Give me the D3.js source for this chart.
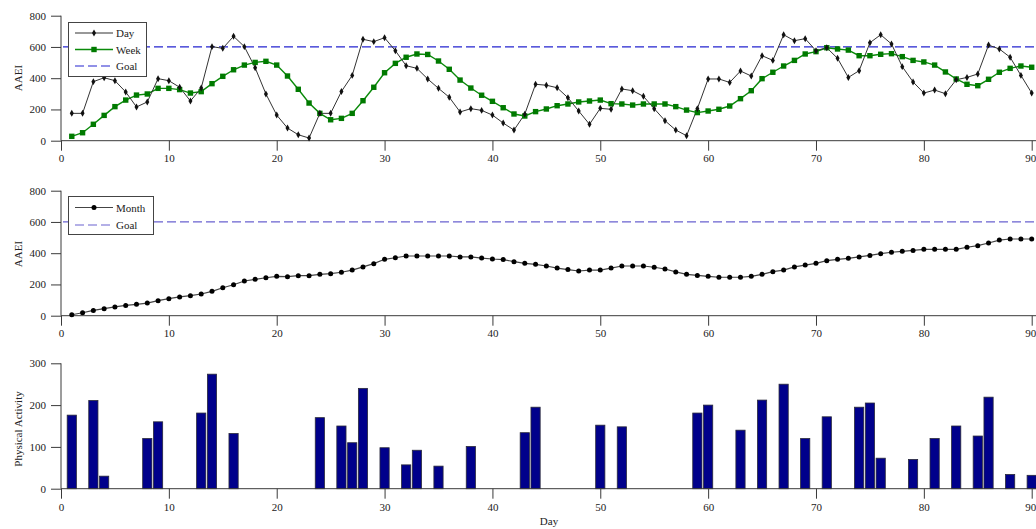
<!DOCTYPE html>
<html>
<head>
<meta charset="utf-8">
<script src="https://cdn.jsdelivr.net/npm/d3@7"></script>
<style>
  html, body { margin: 0; padding: 0; background: #fff; }
  svg { display: block; }
  text { font-family: "Liberation Serif", "Times New Roman", serif; font-size: 11px; fill: #222; }
</style>
</head>
<body>
<svg id="chart" width="1036" height="529"></svg>
<script>
// ---------- data ----------
const days = d3.range(1, 91);
const dayValues = [175,175,378,403,384,312,216,248,397,384,342,254,337,602,591,668,602,467,299,164,
  81,38,17,175,175,315,418,649,634,659,576,480,463,395,335,278,184,205,194,164,
  113,68,170,361,355,339,275,190,105,207,201,331,320,284,205,128,68,32,205,395,
  395,373,446,414,544,514,678,640,653,576,595,527,405,448,627,678,619,474,376,305,
  324,301,390,405,427,612,587,534,418,305];
const weekValues = [28,51,105,162,218,260,292,299,335,335,327,305,314,365,412,454,484,501,508,484,
  414,329,241,175,134,143,175,256,342,435,495,534,555,552,510,457,388,337,291,252,
  211,171,158,186,203,224,235,248,254,260,237,235,228,235,235,235,218,196,180,190,
  201,222,269,320,397,438,478,514,555,570,595,587,580,544,544,553,557,538,514,504,
  484,440,395,361,352,393,438,463,478,470];
const monthValues = [6,19,34,45,56,66,73,81,96,109,120,128,139,156,179,198,222,233,243,252,
  250,256,256,265,269,278,292,312,333,361,371,382,382,382,382,382,376,376,369,363,
  359,346,335,329,318,305,295,286,292,292,305,318,318,318,310,299,280,265,258,252,
  246,246,246,252,265,282,292,312,324,335,352,361,367,376,386,397,406,412,418,425,
  425,425,425,438,448,465,484,491,491,491];
const goalValue = 600;
const activityDays = [1,3,4,8,9,13,14,16,24,26,27,28,30,32,33,35,38,43,44,50,52,59,60,63,65,67,69,71,74,75,76,79,81,83,85,86,88,90];
const activityValues = [176,211,30,120,160,181,274,132,170,150,110,240,98,57,92,54,101,134,195,152,148,181,200,140,212,250,120,172,195,205,73,70,120,150,126,219,34,32];
const xTicks = [0,10,20,30,40,50,60,70,80,90];
const aaeiTicks = [0,200,400,600,800];
const activityTicks = [0,100,200,300];

// ---------- layout ----------
const svg = d3.select("#chart");
const W = 1036;
const x = d3.scaleLinear().domain([0, 90]).range([61, 1031.7]);
const y1 = d3.scaleLinear().domain([0, 800]).range([140.7, 15.7]);
const y2 = d3.scaleLinear().domain([0, 800]).range([315.7, 190.7]);
const y3 = d3.scaleLinear().domain([0, 300]).range([488.7, 363.3]);
const axisColor = "#3a3a3a";

function drawAxes(y, yTicks, padX) {
  const g = svg.append("g");
  const ya = d3.axisLeft(y).tickValues(yTicks).tickSize(10).tickPadding(5).tickSizeOuter(0);
  const gy = g.append("g").attr("transform", `translate(${x(0)},0)`).call(ya);
  gy.select(".domain").remove();
  gy.selectAll(".tick line").attr("stroke", axisColor);
  gy.selectAll(".tick text").attr("font-family", null).attr("font-size", null).attr("fill", "#222");
  g.append("line").attr("x1", x(0)).attr("x2", x(0)).attr("y1", y.range()[1]).attr("y2", y.range()[0])
    .attr("stroke", axisColor);
  const xa = d3.axisBottom(x).tickValues(xTicks).tickSize(10).tickPadding(padX).tickSizeOuter(0);
  const gx = g.append("g").attr("transform", `translate(0,${y.range()[0]})`).call(xa);
  gx.select(".domain").remove();
  gx.selectAll(".tick line").attr("stroke", axisColor);
  gx.selectAll(".tick text").attr("font-family", null).attr("font-size", null).attr("fill", "#222")
    .attr("text-anchor", d => d === 90 ? "end" : "middle")
    .attr("x", d => d === 90 ? 4 : 0);
  g.append("line").attr("x1", x(0)).attr("x2", W).attr("y1", y.range()[0]).attr("y2", y.range()[0])
    .attr("stroke", axisColor);
}

function yTitle(txt, cy) {
  svg.append("text").attr("transform", `translate(22,${cy}) rotate(-90)`)
    .attr("text-anchor", "middle").text(txt);
}

function goalLine(y, color) {
  svg.append("line").attr("x1", x(0) + 2).attr("x2", W).attr("y1", y(goalValue)).attr("y2", y(goalValue))
    .attr("stroke", color).attr("stroke-width", 1.2).attr("stroke-dasharray", "9,4");
}

// ---------- panel 1 ----------
drawAxes(y1, aaeiTicks, 4);
yTitle("AAEI", 78);
goalLine(y1, "#2424d0");
const line1 = d3.line().x((d, i) => x(days[i])).y(d => y1(d));
svg.append("path").datum(weekValues).attr("d", line1).attr("fill", "none")
  .attr("stroke", "#0a8a0a").attr("stroke-width", 1.4);
svg.append("path").datum(dayValues).attr("d", line1).attr("fill", "none")
  .attr("stroke", "#333").attr("stroke-width", 1);
svg.append("g").selectAll("rect").data(weekValues).join("rect")
  .attr("x", (d, i) => x(days[i]) - 2.7).attr("y", d => y1(d) - 2.7)
  .attr("width", 5.4).attr("height", 5.4).attr("fill", "#007a00");
const diamond = d3.symbol().type(d3.symbolDiamond).size(14);
svg.append("g").selectAll("path").data(dayValues).join("path")
  .attr("transform", (d, i) => `translate(${x(days[i])},${y1(d)})`)
  .attr("d", diamond).attr("fill", "#111");

// legend 1
const l1 = svg.append("g");
l1.append("rect").attr("x", 68.5).attr("y", 22.5).attr("width", 78).attr("height", 54)
  .attr("fill", "#fff").attr("stroke", "#444");
const leg1 = [
  {label: "Day", y: 33, color: "#333", dash: null, mark: "diamond"},
  {label: "Week", y: 49.5, color: "#0a8a0a", dash: null, mark: "square"},
  {label: "Goal", y: 66, color: "#2424d0", dash: "9,4", mark: null}
];
leg1.forEach(e => {
  l1.append("line").attr("x1", 75).attr("x2", 113).attr("y1", e.y).attr("y2", e.y)
    .attr("stroke", e.color).attr("stroke-width", e.label === "Week" ? 1.4 : 1.1)
    .attr("stroke-dasharray", e.dash);
  if (e.mark === "diamond") l1.append("path").attr("transform", `translate(94,${e.y})`).attr("d", diamond).attr("fill", "#111");
  if (e.mark === "square") l1.append("rect").attr("x", 91.3).attr("y", e.y - 2.7).attr("width", 5.4).attr("height", 5.4).attr("fill", "#007a00");
  l1.append("text").attr("x", 116).attr("y", e.y + 4).text(e.label);
});

// ---------- panel 2 ----------
drawAxes(y2, aaeiTicks, 4);
yTitle("AAEI", 254);
goalLine(y2, "#6a62d0");
const line2 = d3.line().x((d, i) => x(days[i])).y(d => y2(d));
svg.append("path").datum(monthValues).attr("d", line2).attr("fill", "none")
  .attr("stroke", "#444").attr("stroke-width", 1.2);
svg.append("g").selectAll("circle").data(monthValues).join("circle")
  .attr("cx", (d, i) => x(days[i])).attr("cy", d => y2(d)).attr("r", 2.5).attr("fill", "#000");

const l2 = svg.append("g");
l2.append("rect").attr("x", 68.5).attr("y", 196.5).attr("width", 85).attr("height", 38)
  .attr("fill", "#fff").attr("stroke", "#444");
const leg2 = [
  {label: "Month", y: 207.5, color: "#444", dash: null, mark: true},
  {label: "Goal", y: 225, color: "#6a62d0", dash: "9,4", mark: false}
];
leg2.forEach(e => {
  l2.append("line").attr("x1", 75).attr("x2", 113).attr("y1", e.y).attr("y2", e.y)
    .attr("stroke", e.color).attr("stroke-width", 1.2).attr("stroke-dasharray", e.dash);
  if (e.mark) l2.append("circle").attr("cx", 94).attr("cy", e.y).attr("r", 2.5).attr("fill", "#000");
  l2.append("text").attr("x", 116).attr("y", e.y + 4).text(e.label);
});

// ---------- panel 3 ----------
const bw = 9.2;
svg.append("g").selectAll("rect").data(activityValues).join("rect")
  .attr("x", (d, i) => x(activityDays[i]) - bw / 2)
  .attr("y", d => y3(d))
  .attr("width", bw)
  .attr("height", d => y3(0) - y3(d))
  .attr("fill", "#00008b").attr("stroke", "#2a2a3a").attr("stroke-width", 0.8);
drawAxes(y3, activityTicks, 5);
yTitle("Physical Activity", 429);
svg.append("text").attr("x", 549).attr("y", 525).attr("text-anchor", "middle").text("Day");
</script>
</body>
</html>
